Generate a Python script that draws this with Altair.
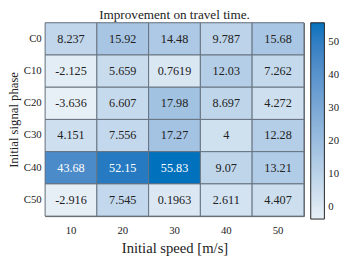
import altair as alt
import pandas as pd

phases = ["C0", "C10", "C20", "C30", "C40", "C50"]
speeds = ["10", "20", "30", "40", "50"]
values = [
    [8.237, 15.92, 14.48, 9.787, 15.68],
    [-2.125, 5.659, 0.7619, 12.03, 7.262],
    [-3.636, 6.607, 17.98, 8.697, 4.272],
    [4.151, 7.556, 17.27, 4, 12.28],
    [43.68, 52.15, 55.83, 9.07, 13.21],
    [-2.916, 7.545, 0.1963, 2.611, 4.407],
]
labels = [
    ["8.237", "15.92", "14.48", "9.787", "15.68"],
    ["-2.125", "5.659", "0.7619", "12.03", "7.262"],
    ["-3.636", "6.607", "17.98", "8.697", "4.272"],
    ["4.151", "7.556", "17.27", "4", "12.28"],
    ["43.68", "52.15", "55.83", "9.07", "13.21"],
    ["-2.916", "7.545", "0.1963", "2.611", "4.407"],
]

rows = []
for i, p in enumerate(phases):
    for j, s in enumerate(speeds):
        rows.append({"phase": p, "speed": s, "v": values[i][j], "lab": labels[i][j]})
df = pd.DataFrame(rows)

FONT = "Liberation Serif, Times New Roman, serif"
vmin = min(min(r) for r in values)
vmax = max(max(r) for r in values)

base = alt.Chart(df).encode(
    x=alt.X("speed:O", sort=speeds, title="Initial speed [m/s]",
            axis=alt.Axis(labelAngle=0, ticks=False, domain=False, labelPadding=9,
                          titlePadding=5, titleFontSize=15)),
    y=alt.Y("phase:O", sort=phases, title="Initial signal phase",
            axis=alt.Axis(ticks=False, domain=False, labelPadding=4, titleX=-25,
                          titleFontSize=13)),
)

rect = base.mark_rect(stroke="#66727f", strokeWidth=1).encode(
    color=alt.Color("v:Q",
                    scale=alt.Scale(domain=[vmin, vmax], range=["#e8f0f7", "#0072bd"], nice=False),
                    legend=alt.Legend(title=None, values=[0, 10, 20, 30, 40, 50],
                                      gradientLength=201, gradientThickness=14,
                                      gradientStrokeColor="#222222", gradientStrokeWidth=1,
                                      offset=7, padding=0, labelOffset=4,
                                      labelFont=FONT, labelFontSize=11, labelColor="#222"))
)

text = base.mark_text(font=FONT, fontSize=12.5).encode(
    text="lab:N",
    color=alt.condition(alt.datum.v > 40, alt.value("white"), alt.value("#222222")),
)

chart = (rect + text).properties(
    width=265, height=198,
    title=alt.TitleParams("Improvement on travel time.", font=FONT, fontSize=13.5,
                          fontWeight="normal", color="#222", offset=1),
    autosize=alt.AutoSizeParams(type="none"),
    padding={"left": 38, "top": 12, "right": 38, "bottom": 50},
).configure_axis(
    labelFont=FONT, labelFontSize=11, labelColor="#222",
    titleFont=FONT, titleFontWeight="normal", titleColor="#222",
    grid=False,
).configure_view(stroke="#555555", strokeWidth=1)

chart.save("out.html", embed_options={"renderer": "svg", "actions": False})
